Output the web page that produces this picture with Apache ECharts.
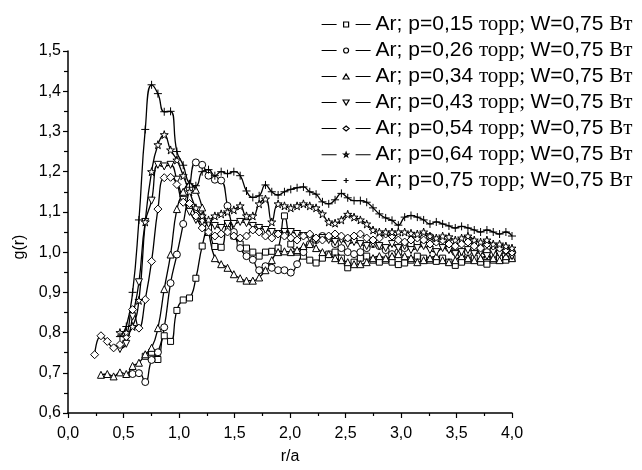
<!DOCTYPE html>
<html><head><meta charset="utf-8">
<script src="https://cdn.jsdelivr.net/npm/echarts@6/dist/echarts.min.js"></script>
<style>html,body{margin:0;padding:0;background:#fff}#c{width:642px;height:470px}</style>
</head><body><div id="c"></div>
<script>
const pressures = ['0,15','0,26','0,34','0,43','0,54','0,64','0,75'];
const xTicks = ['0,0','0,5','1,0','1,5','2,0','2,5','3,0','3,5','4,0'];
const rGrid = [0.240,0.297,0.354,0.411,0.468,0.525,0.582,0.639,0.696,0.753,0.810,0.867,0.924,0.981,1.038,1.095,1.152,1.209,1.266,1.323,1.380,1.437,1.494,1.551,1.608,1.665,1.722,1.779,1.836,1.893,1.950,2.007,2.064,2.121,2.178,2.235,2.292,2.349,2.406,2.463,2.520,2.577,2.634,2.691,2.748,2.805,2.862,2.919,2.976,3.033,3.090,3.147,3.204,3.261,3.318,3.375,3.432,3.489,3.546,3.603,3.660,3.717,3.774,3.831,3.888,3.945,4.000];
const g015 = [null,null,null,null,null,null,null,null,0.741,0.751,0.733,0.792,0.778,0.855,0.881,0.886,0.935,1.015,1.06,1.014,1.012,1.071,1.04,1.02,1.01,1.0,0.99,1.0,1.002,1.01,1.09,1.02,1.0,0.99,0.98,0.973,0.985,0.995,1.0,0.985,0.961,0.975,0.985,0.99,0.98,0.975,0.98,0.975,0.969,0.973,0.98,0.99,0.985,0.98,0.977,0.985,0.975,0.967,0.975,0.98,0.985,0.975,0.97,0.98,0.985,0.98,0.985];
const g026 = [null,null,null,null,null,null,0.697,0.699,0.677,0.732,0.751,0.813,0.923,0.994,1.07,1.16,1.223,1.217,1.19,1.18,1.178,1.115,1.05,1.01,0.99,0.981,0.955,0.965,0.961,0.955,0.955,0.949,0.97,1.0,1.02,1.03,1.04,1.035,1.02,1.01,1.0,0.995,1.0,1.01,1.02,1.015,1.005,0.995,1.0,1.01,1.02,1.025,1.035,1.038,1.03,1.02,1.01,1.0,0.995,1.0,1.01,1.005,1.0,0.995,1.0,1.005,1.0];
const g034 = [null,0.695,0.697,0.691,0.701,0.697,0.717,0.725,0.746,0.762,0.811,0.908,0.994,1.107,1.15,1.17,1.155,1.111,1.05,0.985,0.97,0.961,0.945,0.935,0.929,0.929,0.937,0.955,0.98,1.0,1.002,1.0,1.005,1.015,1.02,1.01,1.0,0.995,0.985,0.98,0.975,0.97,0.97,0.975,0.985,0.99,0.985,0.99,0.995,0.99,0.985,0.975,0.98,0.985,0.99,0.98,0.975,0.98,0.99,0.985,0.98,0.985,0.99,0.985,0.98,0.99,0.985];
const g043 = [null,null,null,null,0.759,0.772,0.84,0.925,1.075,1.128,1.217,1.213,1.217,1.18,1.13,1.10,1.08,1.075,1.07,1.065,1.06,1.07,1.07,1.075,1.072,1.065,1.06,1.055,1.05,1.045,1.05,1.05,1.045,1.04,1.035,1.03,1.035,1.03,1.025,1.03,1.02,1.025,1.02,1.015,1.02,1.015,1.01,1.02,1.01,1.015,1.005,1.01,1.015,1.005,1.0,1.01,1.005,0.995,1.0,1.005,0.995,1.0,0.99,1.0,0.995,1.0,0.99];
const g054 = [0.745,0.792,0.778,0.762,0.77,0.79,0.857,0.811,0.882,0.977,1.107,1.185,1.186,1.168,1.124,1.121,1.09,1.06,1.05,1.04,1.045,1.05,1.04,1.035,1.04,1.055,1.05,1.04,1.035,1.045,1.04,1.035,1.03,1.04,1.045,1.035,1.03,1.04,1.045,1.04,1.035,1.04,1.045,1.035,1.03,1.035,1.045,1.04,1.03,1.025,1.03,1.035,1.03,1.02,1.025,1.03,1.02,1.015,1.02,1.025,1.015,1.01,1.02,1.015,1.01,1.005,1.0];
const g064 = [null,null,null,null,0.80,0.80,0.815,0.88,1.075,1.20,1.267,1.292,1.254,1.229,1.19,1.15,1.11,1.09,1.08,1.09,1.095,1.10,1.105,1.115,1.09,1.09,1.12,1.132,1.075,1.12,1.115,1.11,1.115,1.12,1.115,1.11,1.095,1.075,1.072,1.08,1.094,1.087,1.08,1.07,1.055,1.05,1.05,1.05,1.05,1.05,1.047,1.045,1.05,1.04,1.035,1.04,1.038,1.03,1.035,1.04,1.03,1.025,1.03,1.02,1.02,1.015,1.01];
const g075 = [null,null,null,null,0.79,0.815,0.90,1.08,1.305,1.416,1.394,1.349,1.35,1.25,1.216,1.17,1.165,1.20,1.205,1.19,1.20,1.195,1.20,1.19,1.152,1.136,1.14,1.167,1.15,1.142,1.15,1.156,1.16,1.162,1.15,1.144,1.125,1.12,1.13,1.146,1.135,1.128,1.128,1.124,1.11,1.095,1.085,1.079,1.067,1.087,1.091,1.087,1.08,1.07,1.075,1.07,1.065,1.06,1.064,1.06,1.055,1.05,1.055,1.05,1.045,1.05,1.04];

const starPath = 'path://M50,0L61,35L98,35L68,57L79,91L50,70L21,91L32,57L2,35L39,35Z';
const plusPath = 'path://M5,0L5,10M0,5L10,5';
const legLines = 'M0,3.5L15,3.5M34,3.5L49,3.5';
const seriesDefs = [
  {vals:g015, symbol:'rect', size:6, rot:0, leg:'M22,1L27,1L27,6L22,6Z'},
  {vals:g026, symbol:'circle', size:7, rot:0, leg:'M22,3.5A2.5,2.5,0,1,1,27,3.5A2.5,2.5,0,1,1,22,3.5Z'},
  {vals:g034, symbol:'triangle', size:7, rot:0, leg:'M24.5,1L27.5,6L21.5,6Z'},
  {vals:g043, symbol:'triangle', size:7, rot:180, leg:'M21.5,1L27.5,1L24.5,6Z'},
  {vals:g054, symbol:'diamond', size:8, rot:0, leg:'M24.5,1L27.5,3.5L24.5,6L21.5,3.5Z'},
  {vals:g064, symbol:starPath, size:8, rot:0, leg:'M24.5,1L25.09,2.69L26.88,2.73L25.45,3.81L25.97,5.52L24.5,4.5L23.03,5.52L23.55,3.81L22.12,2.73L23.91,2.69Z'},
  {vals:g075, symbol:plusPath, size:8, rot:0, leg:'M24.5,1L24.5,6M22,3.5L27,3.5'}
];
const names = pressures.map(p => 'Ar; p=' + p + ' торр; W=0,75 Вт');

const series = seriesDefs.map((d, k) => ({
  name: names[k],
  type: 'line',
  smooth: 0.5,
  data: rGrid.map((x, i) => [x, d.vals[i]]).filter(p => p[1] !== null),
  symbol: d.symbol,
  symbolSize: d.size,
  symbolRotate: d.rot,
  showAllSymbol: true,
  lineStyle: {color: '#000', width: 1.3},
  itemStyle: {color: '#fff', borderColor: '#000', borderWidth: 1},
  emphasis: {disabled: true},
  animation: false
}));

const fmt = v => v.toFixed(1).replace('.', ',');
const chart = echarts.init(document.getElementById('c'), null, {renderer: 'canvas'});
chart.setOption({
  backgroundColor: '#fff',
  animation: false,
  grid: {left: 68, top: 51, width: 444, height: 369},
  legend: {
    orient: 'vertical', left: 316, top: 9, itemWidth: 49, itemHeight: 5, itemGap: 5,
    itemStyle: {color: '#fff', borderColor: '#000', borderWidth: 1.2},
    data: names.map((n, k) => ({name: n, icon: 'path://' + legLines + seriesDefs[k].leg, iconRotate: 0})),
    formatter: name => {
      const p = name.match(/p=([0-9,]+)/)[1];
      return '{a|Ar; p=' + p + ' }{b|торр; }{a|W=0,75 }{b|Вт}';
    },
    textStyle: {
      rich: {
        a: {fontFamily: 'Liberation Sans', fontSize: 21, color: '#000', lineHeight: 22},
        b: {fontFamily: 'Liberation Serif', fontSize: 21, color: '#000', lineHeight: 22}
      }
    }
  },
  xAxis: {
    type: 'value', min: 0, max: 4, interval: 0.5,
    name: 'r/a', nameLocation: 'middle', nameGap: 36,
    nameTextStyle: {fontFamily: 'Liberation Sans', fontSize: 16, color: '#000'},
    axisLine: {lineStyle: {color: '#000', width: 1.5}},
    axisTick: {inside: false, length: 5, lineStyle: {color: '#000', width: 1.2}},
    minorTick: {show: true, splitNumber: 2, length: 3, lineStyle: {color: '#000', width: 1.2}},
    splitLine: {show: false},
    axisLabel: {margin: 13, fontFamily: 'Liberation Sans', fontSize: 16, color: '#000',
      formatter: v => xTicks[Math.round(v / 0.5)]}
  },
  yAxis: {
    type: 'value', min: 0.6, max: 1.5, interval: 0.1,
    name: 'g(r)', nameLocation: 'middle', nameGap: 40,
    nameTextStyle: {fontFamily: 'Liberation Sans', fontSize: 16, color: '#000', padding: [0, 30, 0, 0]},
    axisLine: {show: true, lineStyle: {color: '#000', width: 1.5}},
    axisTick: {show: true, inside: false, length: 5, lineStyle: {color: '#000', width: 1.2}},
    minorTick: {show: true, splitNumber: 2, length: 4, lineStyle: {color: '#000', width: 1.2}},
    splitLine: {show: false},
    axisLabel: {margin: 7, fontFamily: 'Liberation Sans', fontSize: 16, color: '#000', formatter: fmt}
  },
  series: series
});
</script></body></html>
